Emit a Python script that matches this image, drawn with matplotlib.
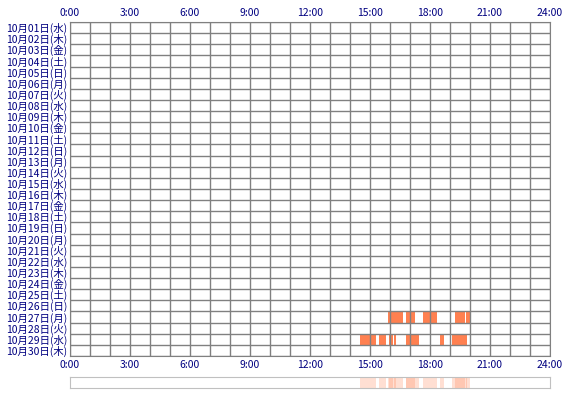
import matplotlib
matplotlib.use("Agg")
import matplotlib.pyplot as plt

plt.rcParams['font.family'] = ['Noto Sans CJK JP', 'DejaVu Sans']

weekdays = ["水", "木", "金", "土", "日", "月", "火"]
days = [f"10月{d:02d}日({weekdays[(d - 1) % 7]})" for d in range(1, 31)]
hour_ticks = [0, 3, 6, 9, 12, 15, 18, 21, 24]
hour_labels = ["0:00", "3:00", "6:00", "9:00", "12:00", "15:00", "18:00", "21:00", "24:00"]

# activity periods (start hour, end hour) per day index
activity = {
    26: [(15.9, 16.65), (16.8, 17.25), (17.65, 18.35), (19.25, 19.75), (19.8, 20.0)],
    28: [(14.5, 15.3), (15.45, 15.8), (15.95, 16.15), (16.2, 16.3), (16.8, 17.45),
         (18.5, 18.7), (19.1, 19.85)],
}

W, H = 570, 400
fig = plt.figure(figsize=(W / 100, H / 100), dpi=100)
ax = fig.add_axes([70 / W, 1 - 356 / H, 480 / W, 334 / H])
navy = "#000080"

for row, spans in activity.items():
    for s, e in spans:
        ax.add_patch(plt.Rectangle((s, row), e - s, 1, color="#ff8050", lw=0, zorder=1))

ax.set_xlim(0, 24)
ax.set_ylim(30, 0)
for h in range(25):
    ax.axvline(h, color="#808080", lw=1, zorder=2)
for r in range(31):
    ax.axhline(r, color="#808080", lw=1, zorder=2)
ax.set_xticks(hour_ticks)
ax.set_xticklabels(hour_labels, color=navy, fontsize=7.5)
ax.tick_params(axis="x", length=0, top=True, labeltop=True, pad=3)
ax.set_yticks([i + 0.5 for i in range(30)])
ax.set_yticklabels(days, fontsize=7.5, color=navy)
ax.tick_params(axis="y", length=0, pad=2)
for sp in ax.spines.values():
    sp.set_color("#808080")

# summary strip
ax2 = fig.add_axes([70 / W, 1 - 388 / H, 480 / W, 11 / H])
for spans in activity.values():
    for s, e in spans:
        ax2.axvspan(s, e, color="#ff8050", alpha=0.25, lw=0)
ax2.set_xlim(0, 24)
ax2.set_xticks([])
ax2.set_yticks([])
for sp in ax2.spines.values():
    sp.set_color("#c0c0c0")

fig.savefig("out.png", dpi=100)
